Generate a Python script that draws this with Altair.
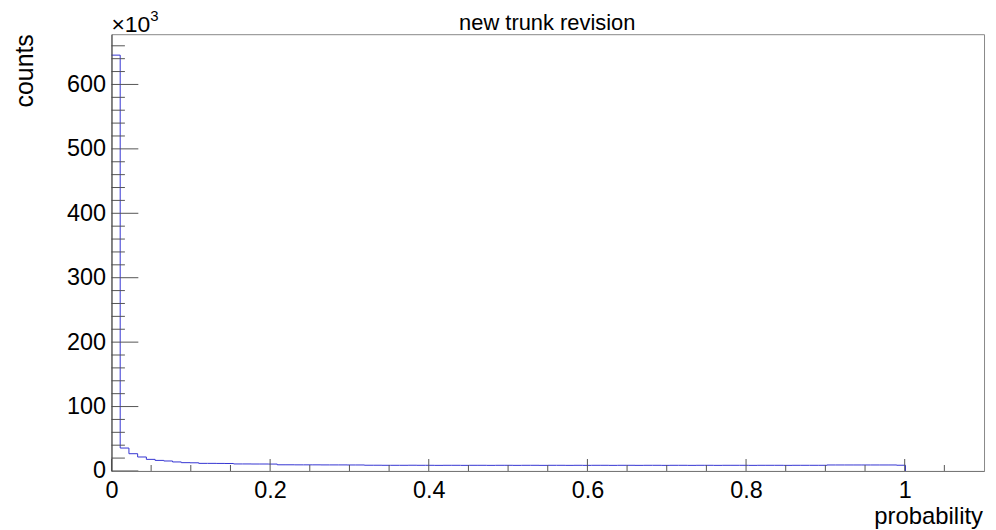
import altair as alt
import pandas as pd

# ---------------- data ----------------
bin_low = 0.0
bin_width = 0.011          # 100 bins from 0 to 1.1
counts_k = [
    645.5, 35.6, 26.8, 21.7, 18.0, 16.4, 15.5, 14.0, 12.9, 12.7,
    11.8, 11.8, 11.7, 11.6, 10.9, 10.9, 10.8, 10.8, 10.7, 9.6,
    9.6, 9.5, 9.5, 9.5, 9.4, 9.4, 9.4, 9.3, 9.3, 8.9,
    8.9, 8.8, 8.8, 8.8, 8.9, 8.8, 8.8, 8.7, 8.8, 8.8,
    8.7, 8.8, 8.8, 8.7, 8.8, 8.8, 8.7, 8.8, 8.8, 8.7,
    8.8, 8.8, 8.7, 8.8, 8.7, 8.8, 8.8, 8.7, 8.8, 8.8,
    8.7, 8.8, 8.8, 8.7, 8.8, 8.8, 8.7, 8.8, 8.8, 8.7,
    8.8, 8.8, 8.8, 8.7, 8.8, 8.8, 8.8, 8.7, 8.8, 8.8,
    8.8, 8.8, 9.3, 9.3, 9.3, 9.3, 9.3, 9.3, 9.3, 9.3,
    8.9, 0.0, 0.0, 0.0, 0.0, 0.0, 0.0, 0.0, 0.0, 0.0,
]
x_major = [0, 0.2, 0.4, 0.6, 0.8, 1.0]
x_minor = [0.05, 0.1, 0.15, 0.25, 0.3, 0.35, 0.45, 0.5, 0.55, 0.65, 0.7,
           0.75, 0.85, 0.9, 0.95, 1.05]
y_major = [0, 100, 200, 300, 400, 500, 600]
y_minor = [20, 40, 60, 80, 120, 140, 160, 180, 220, 240, 260, 280, 320, 340,
           360, 380, 420, 440, 460, 480, 520, 540, 560, 580, 620, 640, 660]
x_domain = [0, 1.1]
y_domain = [0, 678]

title_text = "new trunk revision"
x_title = "probability"
y_title = "counts"
exp_base = "\u00d710"
exp_power = "3"

# ---------------- layout ----------------
W, H = 877, 439
FONT = "Liberation Sans"
LINE_BLUE = "#3434d2"

n = len(counts_k)
edges = [bin_low + i * bin_width for i in range(n + 1)]
last = max(i for i, c in enumerate(counts_k) if c > 0)
hist_df = pd.DataFrame({
    "x": edges[: last + 2],
    "y": counts_k[: last + 2],
})

xs = alt.Scale(domain=x_domain, nice=False, zero=False)
ys = alt.Scale(domain=y_domain, nice=False, zero=False)

x_axis = alt.Axis(
    values=x_major, title=None, ticks=False, tickSize=0, grid=False,
    labelFont=FONT, labelFontSize=23.5, labelColor="#000",
    labelPadding=8, labelFlush=False, labelOverlap=False,
    domain=True, domainColor="#777", domainWidth=1, zindex=1,
    format="~g")
y_axis = alt.Axis(
    values=y_major, title=None, ticks=False, tickSize=0, grid=False,
    labelFont=FONT, labelFontSize=23.5, labelColor="#000",
    labelPadding=6, labelFlush=False, labelOverlap=False,
    domain=True, domainColor="#444", domainWidth=1, zindex=1,
    format="d")


def X(field):
    return alt.X(field, scale=xs, axis=x_axis)


def Y(field):
    return alt.Y(field, scale=ys, axis=y_axis)


hist = alt.Chart(hist_df).mark_line(
    interpolate="step-after", color=LINE_BLUE, strokeWidth=1
).encode(x=X("x:Q"), y=Y("y:Q"))

TICK = "#555"
ymaj = alt.Chart(pd.DataFrame({"v": y_major})).mark_rule(
    color=TICK, strokeWidth=1).encode(
    y=Y("v:Q"), x=alt.value(0), x2=alt.value(27))
ymin = alt.Chart(pd.DataFrame({"v": y_minor})).mark_rule(
    color=TICK, strokeWidth=1).encode(
    y=Y("v:Q"), x=alt.value(0), x2=alt.value(13.5))
xmaj = alt.Chart(pd.DataFrame({"v": x_major})).mark_rule(
    color=TICK, strokeWidth=1).encode(
    x=X("v:Q"), y=alt.value(H), y2=alt.value(H - 12))
xmin = alt.Chart(pd.DataFrame({"v": x_minor})).mark_rule(
    color=TICK, strokeWidth=1).encode(
    x=X("v:Q"), y=alt.value(H), y2=alt.value(H - 6))


def label(text, **kw):
    pos = {k: kw.pop(k) for k in ("x", "y")}
    return alt.Chart(pd.DataFrame({"t": [text]})).mark_text(
        font=FONT, color="#000", **kw).encode(
        text="t:N", x=alt.value(pos["x"]), y=alt.value(pos["y"]))


title = label(title_text, x=438, y=-4, fontSize=22, align="center",
              baseline="alphabetic")
xt = label(x_title, x=876, y=492, fontSize=24, align="right",
           baseline="alphabetic")
yt = label(y_title, x=-79, y=0, fontSize=25, align="right",
           baseline="alphabetic", angle=270)
e1 = label(exp_base, x=0, y=-2, fontSize=23, align="left",
           baseline="alphabetic")
e2 = label(exp_power, x=39, y=-13, fontSize=15, align="left",
           baseline="alphabetic")

chart = alt.layer(hist, ymaj, ymin, xmaj, xmin, title, xt, yt, e1, e2).properties(
    width=W, height=H,
    autosize=alt.AutoSizeParams(type="none"),
    padding={"left": 104, "top": 25, "right": 4, "bottom": 58},
    background="white",
).configure_view(stroke="#888", strokeWidth=1)

chart.save("out.html", embed_options={"renderer": "svg", "actions": False})
